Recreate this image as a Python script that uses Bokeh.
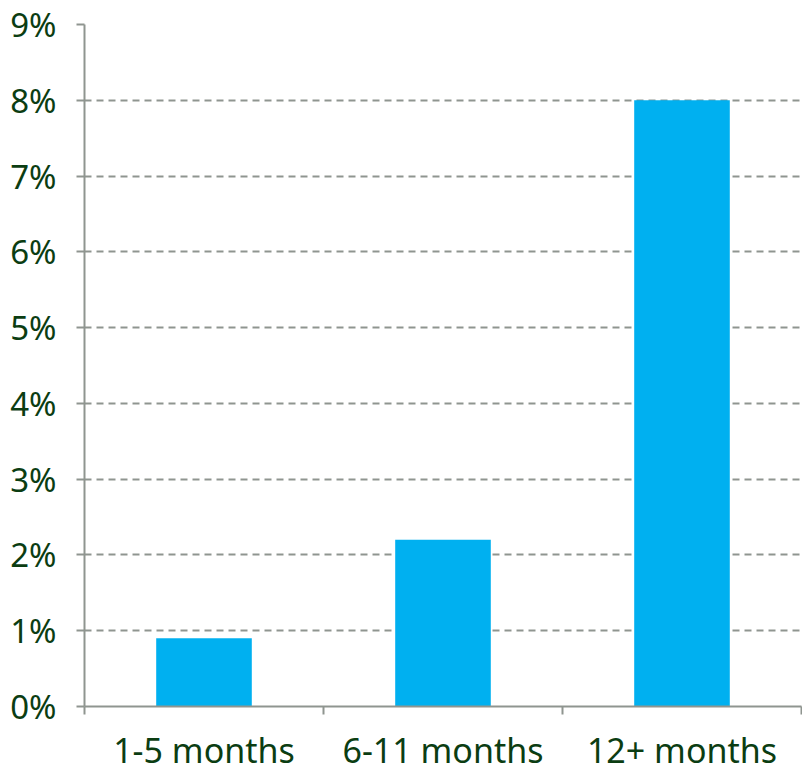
from bokeh.plotting import figure
from bokeh.models import FixedTicker, PrintfTickFormatter, ColumnDataSource, Range1d
from bokeh.embed import file_html
from bokeh.resources import INLINE

categories = ["1-5 months", "6-11 months", "12+ months"]
values = [0.9, 2.2, 8.0]
y_ticks = list(range(0, 10))

xs = [i + 0.5 for i in range(len(categories))]
src = ColumnDataSource(dict(x=xs, top=values))

p = figure(width=802, height=775, output_backend="svg", toolbar_location=None,
           x_range=Range1d(0, len(categories)), y_range=Range1d(0, 9),
           min_border_left=84, min_border_right=1, min_border_top=24, min_border_bottom=69)
p.outline_line_color = None
p.background_fill_color = "white"
p.border_fill_color = "white"

p.vbar(x="x", top="top", width=0.4, bottom=0, source=src, fill_color="#00B0F0", line_color=None)

font = "Noto Sans"
txt = "#0b3d12"
axc = "#8f9590"

p.xaxis.ticker = FixedTicker(ticks=xs, minor_ticks=list(range(len(categories) + 1)))
p.xaxis.major_label_overrides = {x: c for x, c in zip(xs, categories)}
p.xaxis.major_tick_line_color = None
p.xaxis.minor_tick_line_color = axc
p.xaxis.minor_tick_line_width = 2
p.xaxis.minor_tick_out = 8
p.xaxis.minor_tick_in = 0
p.xaxis.axis_line_color = axc
p.xaxis.axis_line_width = 2
p.xaxis.major_label_text_font = font
p.xaxis.major_label_text_font_size = "34px"
p.xaxis.major_label_text_color = txt
p.xaxis.major_label_standoff = 12

p.yaxis.ticker = FixedTicker(ticks=y_ticks)
p.yaxis.formatter = PrintfTickFormatter(format="%d%%")
p.yaxis.major_tick_line_color = axc
p.yaxis.major_tick_line_width = 2
p.yaxis.major_tick_out = 8
p.yaxis.major_tick_in = 0
p.yaxis.minor_tick_line_color = None
p.yaxis.axis_line_color = axc
p.yaxis.axis_line_width = 2
p.yaxis.major_label_text_font = font
p.yaxis.major_label_text_font_size = "33px"
p.yaxis.major_label_text_color = txt
p.yaxis.major_label_standoff = 20

p.xgrid.grid_line_color = None
p.ygrid.grid_line_color = "#8f9590"
p.ygrid.grid_line_width = 2
p.ygrid.grid_line_dash = "7 5"

open("out.html", "w").write(file_html(p, INLINE))
